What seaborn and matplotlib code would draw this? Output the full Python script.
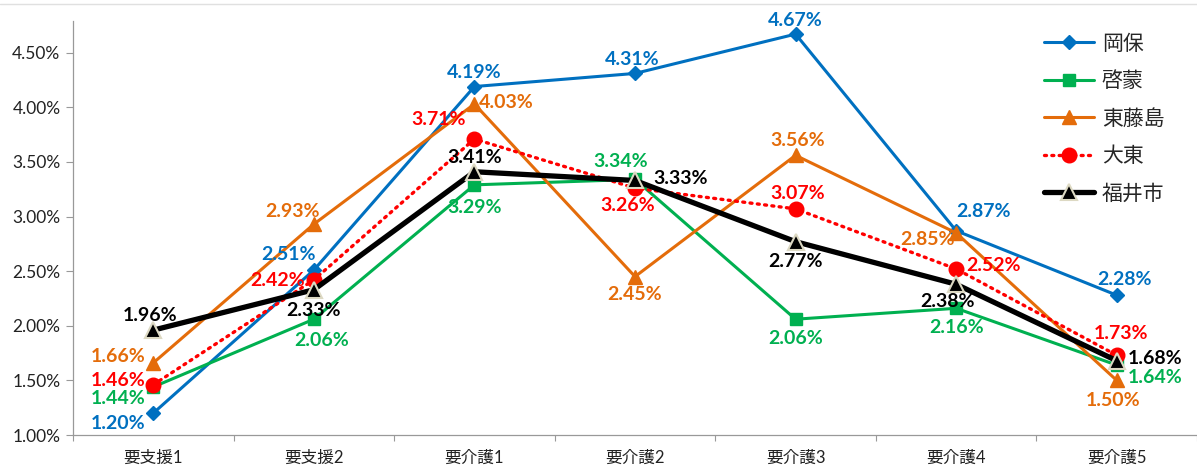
import matplotlib
matplotlib.use("Agg")
import matplotlib.pyplot as plt
from matplotlib.lines import Line2D
import seaborn as sns
import pandas as pd
from matplotlib.ticker import FixedLocator, FuncFormatter

categories = ["要支援1", "要支援2", "要介護1", "要介護2", "要介護3", "要介護4", "要介護5"]
series_names = ["岡保", "啓蒙", "東藤島", "大東", "福井市"]
okabo = [1.20, 2.51, 4.19, 4.31, 4.67, 2.87, 2.28]
keimo = [1.44, 2.06, 3.29, 3.34, 2.06, 2.16, 1.64]
higashifujishima = [1.66, 2.93, 4.03, 2.45, 3.56, 2.85, 1.50]
daito = [1.46, 2.42, 3.71, 3.26, 3.07, 2.52, 1.73]
fukui = [1.96, 2.33, 3.41, 3.33, 2.77, 2.38, 1.68]
yticks = [1.0, 1.5, 2.0, 2.5, 3.0, 3.5, 4.0, 4.5]

values = [okabo, keimo, higashifujishima, daito, fukui]

sns.set_theme(style="white")
plt.rcParams['font.family'] = ['Lato', 'Noto Sans CJK JP', 'DejaVu Sans']

W, H = 1197, 467
fig = plt.figure(figsize=(W / 100, H / 100), dpi=100)
ax = fig.add_axes([73 / W, (H - 435) / H, (W - 73) / W, (435 - 21) / H])

styles = [
    dict(color="#0070C0", marker="D", ms=7.5, lw=2.2, ls="-", mec="#0070C0", mfc="#0070C0", mew=1),
    dict(color="#00B050", marker="s", ms=8.5, lw=2.2, ls="-", mec="#00B050", mfc="#00B050", mew=1),
    dict(color="#E46C0A", marker="^", ms=10, lw=2.2, ls="-", mec="#E46C0A", mfc="#E46C0A", mew=1),
    dict(color="#FF0000", marker="o", ms=10.5, lw=2.4, ls=(0, (0.6, 1.6)), mec="#FF0000", mfc="#FF0000", mew=1),
    dict(color="#000000", marker="^", ms=12, lw=3.8, ls="-", mec="#DDD9C3", mfc="#000000", mew=1.5),
]

x_pos = list(range(len(categories)))
for name, vals, st in zip(series_names, values, styles):
    df = pd.DataFrame({"x": x_pos, "y": vals})
    sns.lineplot(data=df, x="x", y="y", ax=ax, color=st["color"], marker=st["marker"],
                 markersize=st["ms"], linewidth=st["lw"], linestyle=st["ls"],
                 markeredgecolor=st["mec"], markerfacecolor=st["mfc"], markeredgewidth=st["mew"],
                 label=name)
for line in ax.get_lines():
    line.set_dash_capstyle("round")

# label offsets in pixels (dx, dy) ; dy positive = up
offsets = [
    [(-35, -10), (-25, 16), (0, 14), (-3, 14), (0, 14), (27, 19), (8, 16)],
    [(-35, -12), (8, -21), (0, -23), (-14, 18), (0, -19), (0, -19), (38, -12)],
    [(-35, 6), (-21, 13), (32, 2), (0, -18), (2, 15), (-29, -7), (-4, -20)],
    [(-35, 4), (-36, -1), (-36, 19), (-7, -17), (2, 15), (37, 3), (4, 22)],
    [(-3, 15), (0, -21), (0, 14), (46, 2), (0, -20), (-9, -17), (38, 2)],
]
label_colors = ["#0070C0", "#00B050", "#E46C0A", "#FF0000", "#000000"]
for vals, offs, col in zip(values, offsets, label_colors):
    for xi, (v, (dx, dy)) in enumerate(zip(vals, offs)):
        ax.annotate(f"{v:.2f}%", (xi, v), xytext=(dx * 0.72, dy * 0.72), textcoords="offset points",
                    ha="center", va="center", fontsize=14, fontweight="bold", color=col)

ax.set_xlim(-0.5, len(categories) - 0.5)
ax.set_ylim(1.0, 4.79)
ax.set_xticks(x_pos)
ax.set_xticklabels(categories, fontsize=12, color="#222222")
ax.xaxis.set_minor_locator(FixedLocator([i - 0.5 for i in range(len(categories) + 1)]))
ax.tick_params(axis="x", which="major", length=0, pad=11)
ax.tick_params(axis="x", which="minor", length=4, width=0.8, color="#999999", direction="out", bottom=True)
ax.set_yticks(yticks)
ax.yaxis.set_major_formatter(FuncFormatter(lambda v, p: f"{v:.2f}%"))
ax.tick_params(axis="y", length=5, width=0.8, color="#999999", direction="out", left=True,
               labelsize=12.5, labelcolor="#222222", pad=4)
ax.set_xlabel("")
ax.set_ylabel("")
for s in ["top", "right"]:
    ax.spines[s].set_visible(False)
for s in ["left", "bottom"]:
    ax.spines[s].set_color("#999999")
    ax.spines[s].set_linewidth(0.9)

leg = ax.legend(loc="upper right", bbox_to_anchor=(0.982, 1.0), frameon=False, fontsize=15,
                labelspacing=0.84, handlelength=2.4, handletextpad=0.35, borderaxespad=0.2)

fig.add_artist(Line2D([0, 1], [1 - 4 / H, 1 - 4 / H], transform=fig.transFigure, color="#E0E0E0", lw=1))

fig.savefig("out.png", dpi=100)
